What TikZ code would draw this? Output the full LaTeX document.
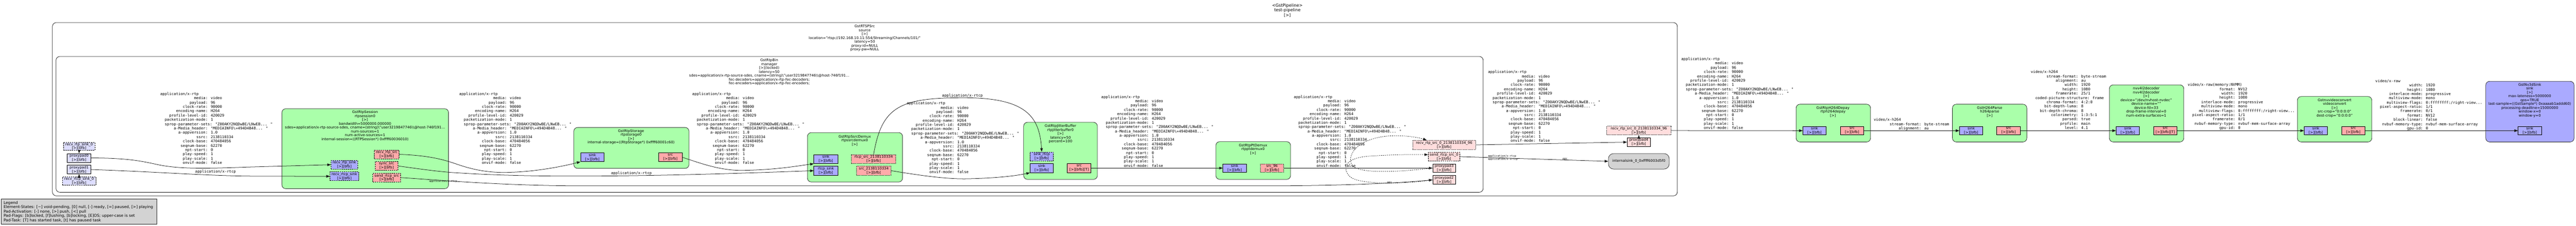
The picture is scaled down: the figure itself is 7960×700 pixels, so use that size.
\documentclass[tikz,border=0pt]{standalone}
\usepackage{fontspec}
\setmainfont{DejaVu Sans}
\newfontfamily\monof{DejaVu Sans Mono}
\usetikzlibrary{arrows.meta}
\definecolor{elemgreen}{HTML}{AAFFAA}
\definecolor{sinkblue}{HTML}{AAAAFF}
\definecolor{srcred}{HTML}{FFAAAA}
\definecolor{gsinkc}{HTML}{DDDDFF}
\definecolor{gsrcc}{HTML}{FFDDDD}
\definecolor{greyc}{HTML}{D3D3D3}
\newcommand\sansf{\fontsize{11}{12}\selectfont}
\newcommand\padf{\fontsize{11}{12.5}\selectfont}
\newcommand\capsf{\monof\fontsize{11.6}{13.35}\selectfont}
\newcommand\smallf{\monof\fontsize{8}{9}\selectfont}
\newcommand\ttlf{\fontsize{13}{15.5}\selectfont}
\newcommand\legf{\fontsize{12}{13.5}\selectfont}
\newcommand\kv[2]{\hspace*{1.204em}\setbox0=\hbox{#1}\ifdim\wd0<10.836em\hbox to 10.836em{\hss\box0}\else\box0\fi: #2}
\newcommand\rtpcapsbody{\strut application/x-rtp\\\kv{media}{video}\\\kv{payload}{96}\\\kv{clock-rate}{90000}\\\kv{encoding-name}{H264}\\\kv{profile-level-id}{420029}\\\kv{packetization-mode}{1}\\\kv{sprop-parameter-sets}{"Z00AKY2NQDwBE/LNwEB... "}\\\kv{a-Media\_header}{"MEDIAINFO\textbackslash=494D4B48... "}\\\kv{a-appversion}{1.0}\\\kv{ssrc}{2138110334}\\\kv{clock-base}{470484056}\\\kv{seqnum-base}{62270}\\\kv{npt-start}{0}\\\kv{play-speed}{1}\\\kv{play-scale}{1}\\\kv{onvif-mode}{false}}
\newcommand\mkbox[6]{\node[#1, minimum width={#5-#3}, minimum height={#6-#4}] (#2) at ({(#3+#5)/2},{(#4+#6)/2}) {};}
\newcommand\mkpad[7]{\node[#1, minimum width={#5-#3}, minimum height={#6-#4}] (#2) at ({(#3+#5)/2},{(#4+#6)/2}) {#7};}
\newcommand\mklab[4]{\node[elabel] (#1) at (#2,{#3-4.4}) {\strut #4};}
\newcommand\mkcaps[4]{\node[capsl] (#1) at (#2,{#3-5.35}) {#4};}
\tikzset{
 binbox/.style={draw=black!85, line width=1.3pt, fill=white, rounded corners=12pt, inner sep=0pt},
 elembox/.style={draw=black!80, line width=1.3pt, fill=elemgreen, rounded corners=12pt, inner sep=0pt},
 sinkelem/.style={elembox, fill=sinkblue},
 padbase/.style={draw=black, line width=1pt, inner sep=0pt, align=center, font=\padf},
 sinkpad/.style={padbase, fill=sinkblue},
 srcpad/.style={padbase, fill=srcred},
 gsinkpad/.style={padbase, fill=gsinkc},
 gsrcpad/.style={padbase, fill=gsrcc},
 reqpad/.style={dash pattern=on 4pt off 2.5pt},
 somepad/.style={dash pattern=on 1.5pt off 2pt},
 intsinkst/.style={draw=black!80, line width=1.2pt, fill=greyc, rounded corners=16pt, inner sep=0pt, font=\padf},
 legendst/.style={draw=black!85, line width=1.2pt, fill=greyc, inner sep=0pt},
 elabel/.style={align=center, inner sep=0pt, anchor=north, font=\sansf},
 capsl/.style={align=left, inner sep=0pt, anchor=north west, font=\capsf},
 rtcpl/.style={inner sep=0pt, anchor=base west, font=\capsf},
 tinyl/.style={inner sep=0pt, anchor=base west, font=\smallf},
 conn/.style={line width=1.2pt, draw=black!90, -{Triangle[length=11pt,width=8pt]}},
 ghostlink/.style={conn, dashed}
}
\begin{document}
\begin{tikzpicture}[x=1pt,y=-1pt]
\useasboundingbox (0,0) rectangle (7960,700);
\fill[white] (0,0) rectangle (7960,700);

% title
\node[anchor=north, align=center, inner sep=0pt, font=\ttlf] (title) at (3978,{16-6.25}) {\strut <GstPipeline>\\test-pipeline\\{}[>]};

% bins
\mkbox{binbox}{rtspsrc}{162}{70}{5183}{607}
\mklab{rtspsrclab}{2672}{81}{GstRTSPSrc\\source\\{}[>]\\location="rtsp://192.168.10.11:554/Streaming/Channels/101/"\\latency=50\\proxy-id=NULL\\proxy-pw=NULL}
\mkbox{binbox}{manager}{173}{175}{4583}{596}
\mklab{managerlab}{2377}{186}{GstRtpBin\\manager\\{}[>](locked)\\latency=50\\sdes=application/x-rtp-source-sdes, cname=(string)\textbackslash"user3219847746\textbackslash\textbackslash@host-746f191…\\fec-decoders=application/x-rtp-fec-decoders;\\fec-encoders=application/x-rtp-fec-encoders;}

% manager left ghost pads
\mkpad{gsinkpad,reqpad}{rsink0}{196}{441}{293}{466}{recv\_rtp\_sink\_0\\{}[>][bfb]}
\mkpad{gsinkpad}{pp0}{208}{476}{281}{503}{proxypad0\\{}[>][bfb]}
\mkpad{gsinkpad}{pp1}{208}{512}{281}{539}{proxypad1\\{}[>][bfb]}
\mkpad{gsinkpad,reqpad}{rcsink0}{193}{548}{296}{574}{recv\_rtcp\_sink\_0\\{}[>][bfb]}

% rtpsession
\mkbox{elembox}{rtpsession}{871}{337}{1386}{585}
\mklab{rtpsessionlab}{1128}{347}{GstRtpSession\\rtpsession0\\{}[>]\\bandwidth=5000000.000000\\sdes=application/x-rtp-source-sdes, cname=(string)\textbackslash"user3219847746\textbackslash\textbackslash@host-746f191…\\num-sources=1\\num-active-sources=1\\internal-session=((RTPSession*) 0xffff60036010)}
\mkpad{sinkpad,reqpad}{sesrtpsink}{1023}{497}{1105}{524}{recv\_rtp\_sink\\{}[>][bfb]}
\mkpad{sinkpad,reqpad}{sesrtcpsink}{1020}{533}{1108}{560}{recv\_rtcp\_sink\\{}[>][bfb]}
\mkpad{srcpad,reqpad}{sesrtpsrc}{1157}{465}{1233}{492}{recv\_rtp\_src\\{}[>][bfb]}
\mkpad{srcpad,reqpad}{sessync}{1159}{501}{1230}{528}{sync\_src\\{}[>][bfb]}
\mkpad{srcpad,reqpad}{sessend}{1152}{537}{1238}{564}{send\_rtcp\_src\\{}[>][bfb]}

% rtpstorage
\mkbox{elembox}{storage}{1773}{395}{2129}{522}
\mklab{storagelab}{1950}{405}{GstRtpStorage\\rtpstorage0\\{}[>]\\internal-storage=((RtpStorage*) 0xffff60001c60)}
\mkpad{sinkpad}{stsink}{1794}{474}{1867}{501}{sink\\{}[>][bfb]}
\mkpad{srcpad}{stsrc}{2035}{474}{2108}{501}{src\\{}[>][bfb]}

% ssrcdemux
\mkbox{elembox}{ssrcdemux}{2495}{411}{2789}{564}
\mklab{ssrcdemuxlab}{2641}{423}{GstRtpSsrcDemux\\rtpssrcdemux0\\{}[>]}
\mkpad{sinkpad}{sdsink}{2515}{479}{2589}{507}{sink\\{}[>][bfb]}
\mkpad{sinkpad}{sdrtcpsink}{2515}{515}{2589}{543}{rtcp\_sink\\{}[>][bfb]}
\mkpad{srcpad,somepad}{sdrtcpsrc}{2631}{479}{2768}{507}{rtcp\_src\_2138110334\\{}[>][bfb]}
\mkpad{srcpad,somepad}{sdsrc}{2647}{515}{2753}{543}{src\_2138110334\\{}[>][bfb]}

% jitterbuffer
\mkbox{elembox}{jbuf}{3163}{379}{3391}{556}
\mklab{jbuflab}{3277}{390}{GstRtpJitterBuffer\\rtpjitterbuffer0\\{}[>]\\latency=50\\percent=100}
\mkpad{sinkpad,reqpad}{jbsinkrtcp}{3183}{471}{3255}{499}{sink\_rtcp\\{}[>][bfb]}
\mkpad{sinkpad}{jbsink}{3183}{507}{3255}{535}{sink\\{}[>][bfb]}
\mkpad{srcpad}{jbsrc}{3298}{507}{3371}{535}{src\\{}[>][bfb][T]}

% ptdemux
\mkbox{elembox}{ptdemux}{3757}{439}{3988}{556}
\mklab{ptdemuxlab}{3872}{450}{GstRtpPtDemux\\rtpptdemux0\\{}[>]}
\mkpad{sinkpad}{ptsink}{3779}{508}{3851}{534}{sink\\{}[>][bfb]}
\mkpad{srcpad,somepad}{ptsrc}{3895}{508}{3966}{534}{src\_96\\{}[>][bfb]}

% manager right ghost pads
\mkpad{gsrcpad,somepad}{mrsrc}{4365}{435}{4560}{463}{recv\_rtp\_src\_0\_2138110334\_96\\{}[>][bfb]}
\mkpad{gsrcpad,reqpad}{msend}{4413}{472}{4511}{499}{send\_rtcp\_src\_0\\{}[>][bfb]}
\mkpad{gsrcpad}{pp3}{4427}{508}{4498}{534}{proxypad3\\{}[>][bfb]}
\mkpad{gsrcpad}{pp2}{4427}{544}{4498}{571}{proxypad2\\{}[>][bfb]}

% rtspsrc right side
\mkpad{gsrcpad,somepad}{srsrc}{4965}{391}{5163}{418}{recv\_rtp\_src\_0\_2138110334\_96\\{}[>][bfb]}
\mkpad{gsrcpad}{pp4}{5028}{427}{5100}{454}{proxypad4\\{}[>][bfb]}
\mkpad{intsinkst}{intsink}{4970}{476}{5158}{524}{internalsink\_0\_0xffff6003d5f0}

% depay
\mkbox{elembox}{depay}{5550}{323}{5780}{440}
\mklab{depaylab}{5664}{334}{GstRtpH264Depay\\rtph264depay\\{}[>]}
\mkpad{sinkpad}{dpsink}{5571}{392}{5643}{418}{sink\\{}[>][bfb]}
\mkpad{srcpad}{dpsrc}{5687}{392}{5759}{418}{src\\{}[>][bfb]}

% h264parse
\mkbox{elembox}{parse}{6033}{323}{6263}{440}
\mklab{parselab}{6148}{334}{GstH264Parse\\h264parse\\{}[>]}
\mkpad{sinkpad}{hpsink}{6055}{392}{6127}{418}{sink\\{}[>][bfb]}
\mkpad{srcpad}{hpsrc}{6170}{392}{6243}{418}{src\\{}[>][bfb]}

% decoder
\mkbox{elembox}{decoder}{6518}{263}{6748}{440}
\mklab{decoderlab}{6632}{274}{nvv4l2decoder\\nvv4l2decoder\\{}[>]\\device="/dev/nvhost-nvdec"\\device-name=""\\device-fd=33\\drop-frame-interval=0\\num-extra-surfaces=1}
\mkpad{sinkpad}{dcsink}{6539}{392}{6611}{418}{sink\\{}[>][bfb]}
\mkpad{srcpad}{dcsrc}{6655}{392}{6727}{418}{src\\{}[>][bfb][T]}

% videoconvert
\mkbox{elembox}{vconv}{7099}{299}{7329}{440}
\mklab{vconvlab}{7214}{310}{Gstnvvideoconvert\\videoconvert\\{}[>]\\src-crop="0:0:0:0"\\dest-crop="0:0:0:0"}
\mkpad{sinkpad}{vcsink}{7120}{392}{7192}{418}{sink\\{}[>][bfb]}
\mkpad{srcpad}{vcsrc}{7236}{392}{7308}{418}{src\\{}[>][bfb]}

% sink
\mkbox{sinkelem}{nvsink}{7681}{252}{7954}{440}
\mklab{nvsinklab}{7817}{262}{GstNv3dSink\\sink\\{}[>]\\max-lateness=5000000\\qos=TRUE\\last-sample=((GstSample*) 0xaaaab1addd60)\\processing-deadline=15000000\\window-x=0\\window-y=0}
\mkpad{sinkpad}{sksink}{7781}{392}{7853}{418}{sink\\{}[>][bfb]}

% legend
\mkbox{legendst}{legend}{4}{617}{484}{695}
\node[anchor=north west, align=left, inner sep=0pt, font=\legf] (legendtext) at (11,{628-5.25}) {\strut Legend\\Element-States: [\textasciitilde] void-pending, [0] null, [-] ready, [=] paused, [>] playing\\Pad-Activation: [-] none, [>] push, [<] pull\\Pad-Flags: [b]locked, [f]lushing, [b]locking, [E]OS; upper-case is set\\Pad-Task: [T] has started task, [t] has paused task};

% caps labels
\mkcaps{caps1}{495}{291}{\rtpcapsbody}
\mkcaps{caps2}{1419}{291}{\rtpcapsbody}
\mkcaps{caps3}{2139}{291}{\rtpcapsbody}
\mkcaps{caps4}{2802}{320}{\rtpcapsbody}
\mkcaps{caps5}{3403}{300}{\rtpcapsbody}
\mkcaps{caps6}{3998}{300}{\rtpcapsbody}
\mkcaps{caps7}{4598}{223}{\rtpcapsbody}
\mkcaps{caps8}{5195}{183}{\rtpcapsbody}
\mkcaps{caps9}{5790}{371}{\strut video/x-h264\\\kv{stream-format}{byte-stream}\\\kv{alignment}{au}}
\mkcaps{caps10}{6275}{223}{\strut video/x-h264\\\kv{stream-format}{byte-stream}\\\kv{alignment}{au}\\\kv{width}{1920}\\\kv{height}{1080}\\\kv{framerate}{25/1}\\\kv{coded-picture-structure}{frame}\\\kv{chroma-format}{4:2:0}\\\kv{bit-depth-luma}{8}\\\kv{bit-depth-chroma}{8}\\\kv{colorimetry}{1:3:5:1}\\\kv{parsed}{true}\\\kv{profile}{main}\\\kv{level}{4.1}}
\mkcaps{caps11}{6760}{263}{\strut video/x-raw(memory:NVMM)\\\kv{format}{NV12}\\\kv{width}{1920}\\\kv{height}{1080}\\\kv{interlace-mode}{progressive}\\\kv{multiview-mode}{mono}\\\kv{multiview-flags}{0:ffffffff:/right-view...}\\\kv{pixel-aspect-ratio}{1/1}\\\kv{framerate}{0/1}\\\kv{nvbuf-memory-type}{nvbuf-mem-surface-array}\\\kv{gpu-id}{0}}
\mkcaps{caps12}{7340}{251}{\strut video/x-raw\\\kv{width}{1920}\\\kv{height}{1080}\\\kv{interlace-mode}{progressive}\\\kv{multiview-mode}{mono}\\\kv{multiview-flags}{0:ffffffff:/right-view...}\\\kv{pixel-aspect-ratio}{1/1}\\\kv{framerate}{0/1}\\\kv{format}{NV12}\\\kv{block-linear}{false}\\\kv{nvbuf-memory-type}{nvbuf-mem-surface-array}\\\kv{gpu-id}{0}}

% single-line edge labels
\node[rtcpl] (rtcpA) at (603,536) {application/x-rtcp};
\node[rtcpl] (rtcpB) at (1888,541) {application/x-rtcp};
\node[rtcpl] (rtcpC) at (2911,300) {application/x-rtcp};
\node[tinyl] (tinyA) at (1326,564) {application/x-rtcp};
\node[tinyl] (tinyB) at (4598,487) {application/x-rtcp};
\node[tinyl] (tinyC) at (4598,496) {application/x-srtcp};
\node[tinyl] (anyA) at (4286,569) {ANY};
\node[tinyl] (anyB) at (4828,496) {ANY};

% edges
\draw[conn] (rsink0.south) -- (pp0.north);
\draw[conn] (rcsink0.north) -- (pp1.south);
\draw[conn] (pp0.east) .. controls (400,490) and (440,500) .. (491,511) .. controls (560,525) and (650,522) .. (760,518) -- (sesrtpsink.west);
\draw[conn] (pp1.east) .. controls (500,533) and (650,546) .. (800,546) -- (sesrtcpsink.west);
\draw[conn] (sesrtpsrc.east) .. controls (1340,482) and (1385,500) .. (1418,511) .. controls (1480,532) and (1530,536) .. (1578,534) .. controls (1650,532) and (1730,518) .. (stsink.south west);
\draw[conn] (sessync.east) .. controls (1300,524) and (1360,533) .. (1418,536) .. controls (1600,548) and (1800,546) .. (1915,545) .. controls (2100,543) and (2300,537) .. (sdrtcpsink.west);
\draw[conn] (sessend.east) .. controls (1330,556) and (1550,576) .. (1800,576) -- (3946,576) .. controls (4150,575) and (4320,568) .. (pp2.west);
\draw[conn] (stsrc.east) .. controls (2170,508) and (2230,530) .. (2300,528) .. controls (2400,526) and (2460,515) .. (sdsink.south west);
\draw[conn] (sdrtcpsrc.north) .. controls (2725,330) and (2780,303) .. (2978,303) .. controls (3170,303) and (3212,360) .. (jbsinkrtcp.north);
\draw[conn] (sdsrc.east) .. controls (2850,545) and (2930,556) .. (2994,554) .. controls (3080,552) and (3140,545) .. (jbsink.south west);
\draw[conn] (jbsrc.east) -- (ptsink.west);
\draw[conn] (ptsrc.east) -- (pp3.west);
\draw[ghostlink] (pp3.west) .. controls (4330,532) and (4210,540) .. (4180,515) .. controls (4155,480) and (4200,425) .. (4300,421) .. controls (4350,419) and (4390,428) .. ([xshift=44pt]mrsrc.north west);
\draw[ghostlink] (pp2.west) .. controls (4330,572) and (4200,572) .. (4172,548) .. controls (4148,525) and (4150,490) .. (4230,484) .. controls (4320,478) and (4380,479) .. ([yshift=6pt]msend.west);
\draw[conn] (mrsrc.east) -- (pp4.west);
\draw[conn] (msend.east) -- (intsink.west);
\draw[conn] (pp4.north) -- (srsrc.south);
\draw[conn] (srsrc.east) -- (dpsink.west);
\draw[conn] (dpsrc.east) -- (hpsink.west);
\draw[conn] (hpsrc.east) -- (dcsink.west);
\draw[conn] (dcsrc.east) -- (vcsink.west);
\draw[conn] (vcsrc.east) -- (sksink.west);
\end{tikzpicture}
\end{document}
